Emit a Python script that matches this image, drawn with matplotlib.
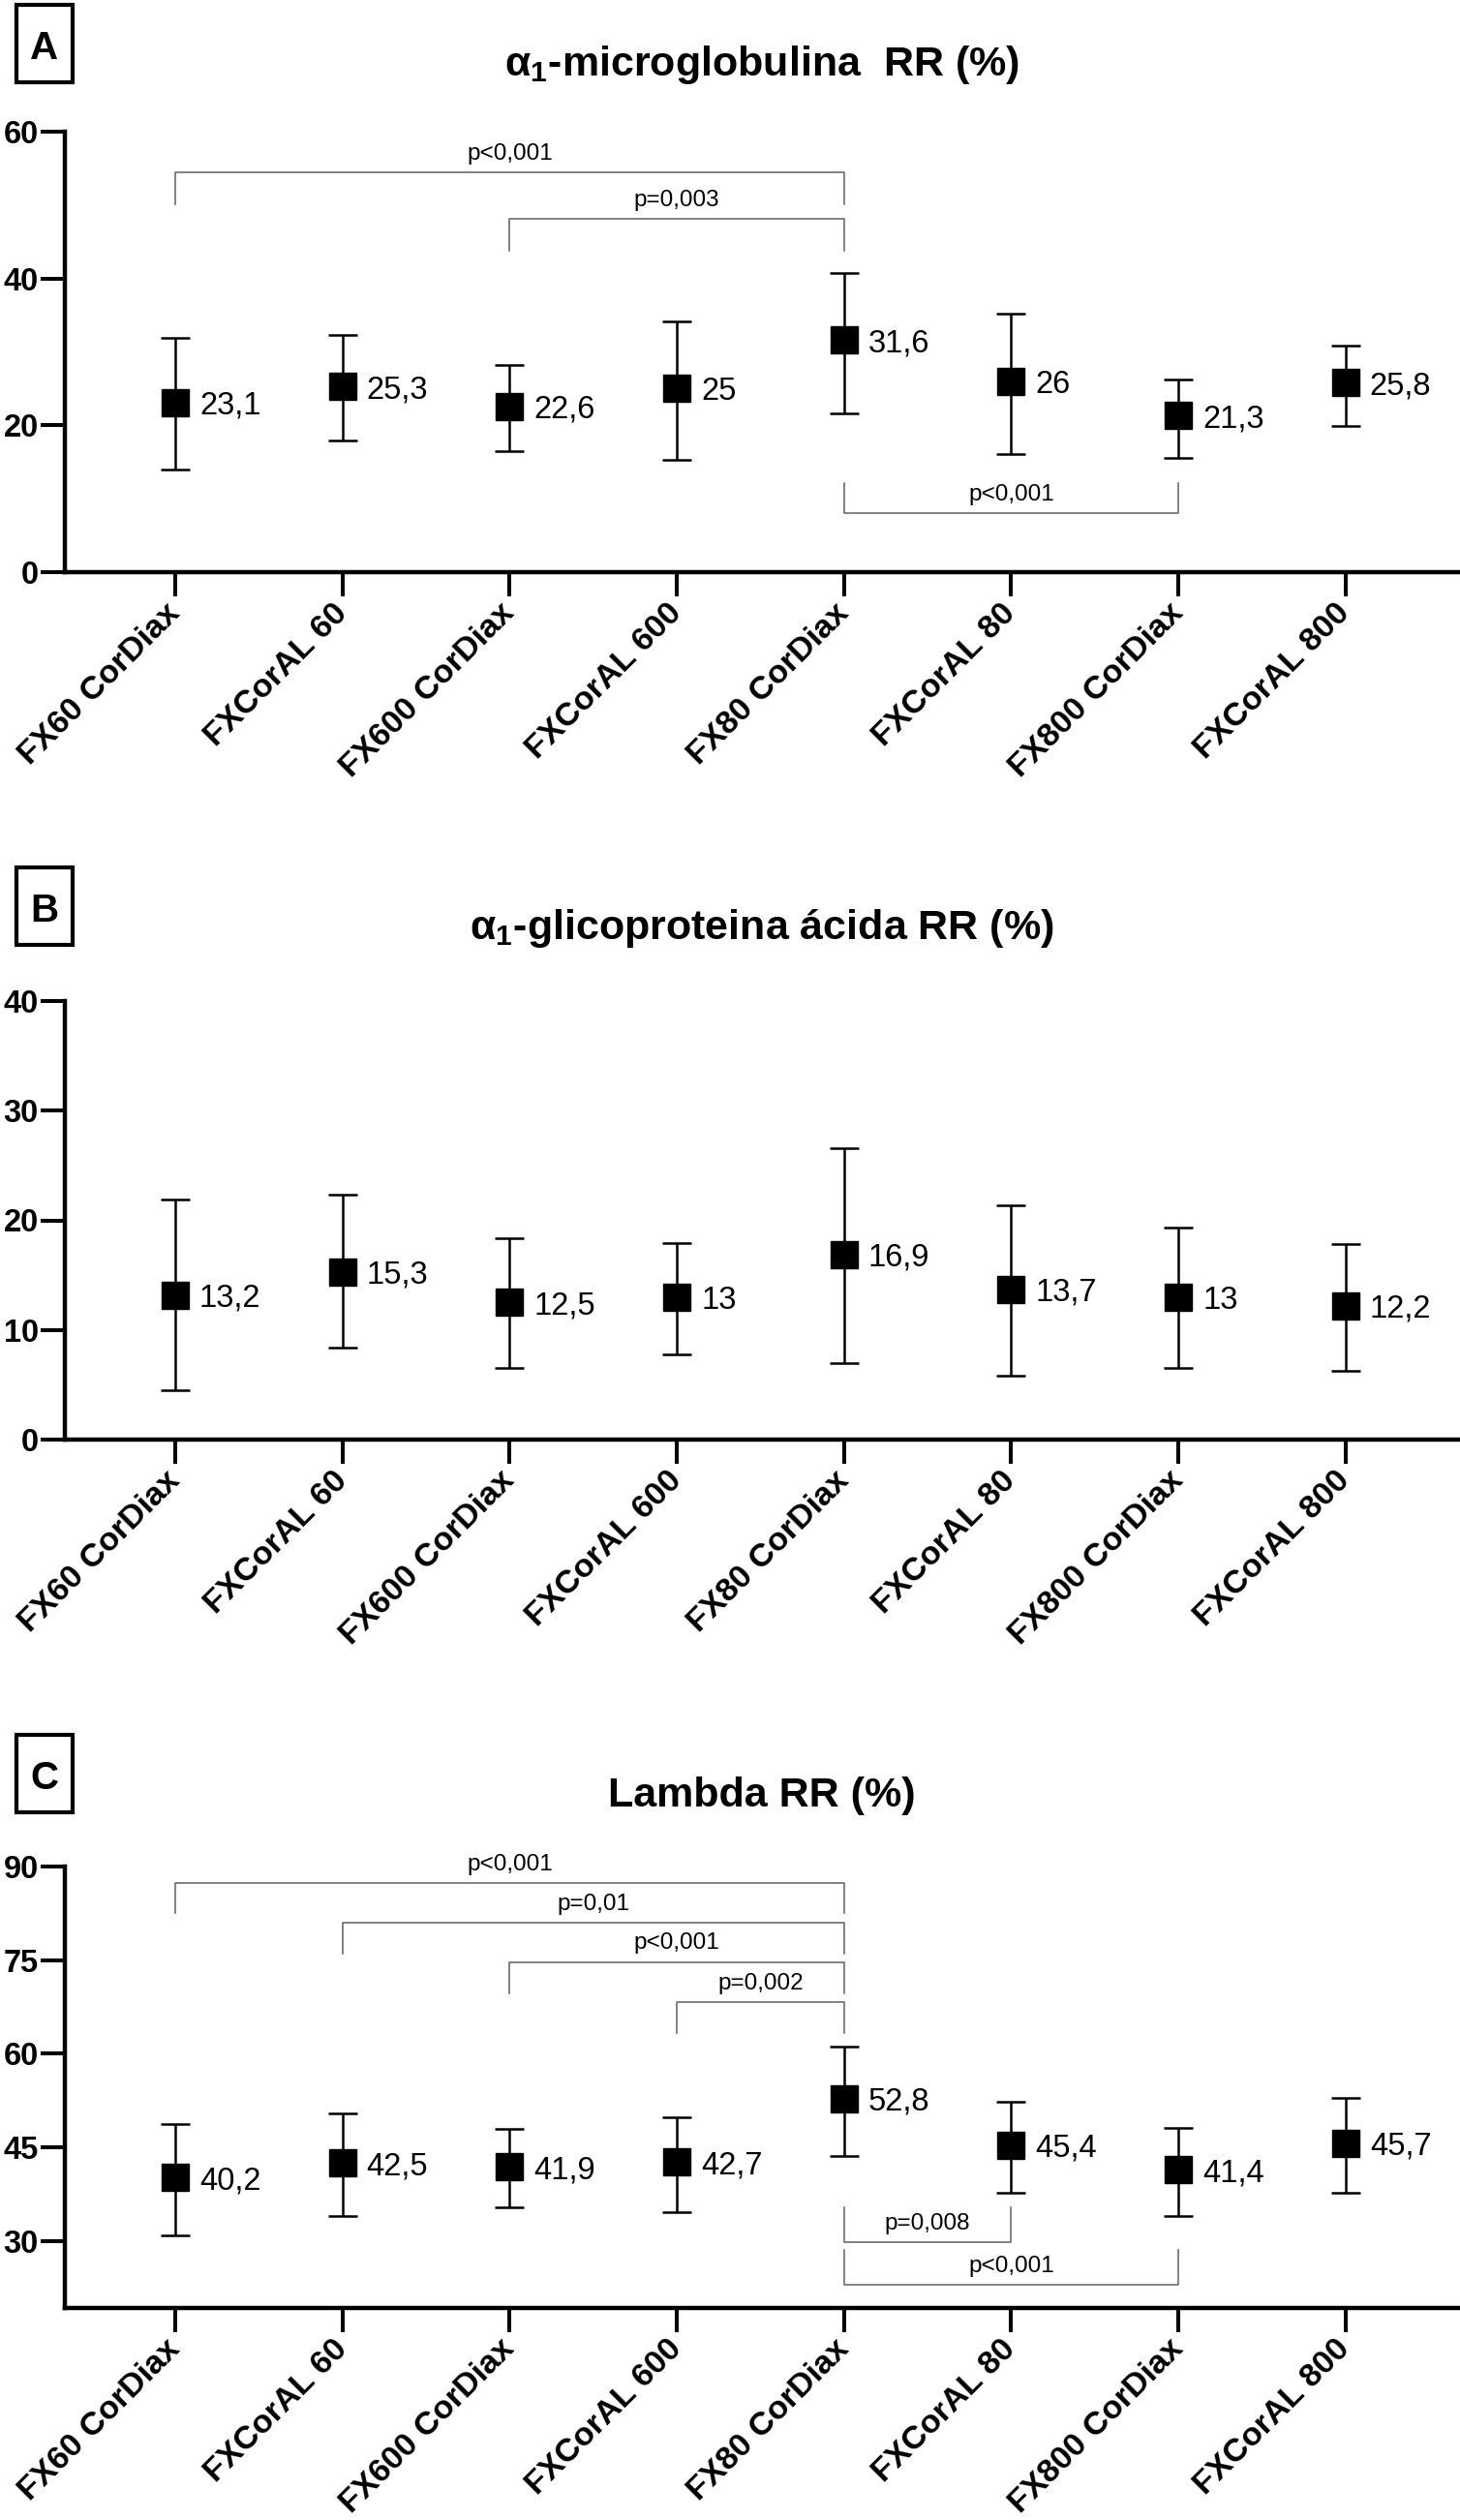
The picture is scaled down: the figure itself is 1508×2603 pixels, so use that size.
import matplotlib
matplotlib.use('Agg')
import matplotlib.pyplot as plt
from matplotlib.patches import Rectangle

plt.rcParams['font.family'] = ['Liberation Sans', 'DejaVu Sans']
plt.rcParams['mathtext.fontset'] = 'custom'
plt.rcParams['mathtext.rm'] = 'Liberation Sans'
plt.rcParams['mathtext.bf'] = 'Liberation Sans:bold'

W, H = 1508, 2603  # output size in px, dpi 100

categories = ['FX60 CorDiax', 'FXCorAL 60', 'FX600 CorDiax', 'FXCorAL 600',
              'FX80 CorDiax', 'FXCorAL 80', 'FX800 CorDiax', 'FXCorAL 800']

# panel A - alpha1-microglobulina
a_mean = [23.1, 25.3, 22.6, 25, 31.6, 26, 21.3, 25.8]
a_upper = [31.9, 32.3, 28.2, 34.1, 40.8, 35.2, 26.3, 30.9]
a_lower = [14.0, 17.9, 16.5, 15.3, 21.6, 16.1, 15.6, 19.9]
a_yticks = [0, 20, 40, 60]
# (from, to, text, line height, leg tip height)
a_brackets = [(0, 4, 'p<0,001', 54.5, 50.1),
              (2, 4, 'p=0,003', 48.1, 43.8),
              (4, 6, 'p<0,001', 8.05, 12.1)]

# panel B - alpha1-glicoproteina acida
b_mean = [13.2, 15.3, 12.5, 13, 16.9, 13.7, 13, 12.2]
b_upper = [21.9, 22.3, 18.4, 17.9, 26.6, 21.4, 19.3, 17.8]
b_lower = [4.5, 8.4, 6.5, 7.8, 7.0, 5.8, 6.5, 6.3]
b_yticks = [0, 10, 20, 30, 40]
b_brackets = []

# panel C - lambda
c_mean = [40.2, 42.5, 41.9, 42.7, 52.8, 45.4, 41.4, 45.7]
c_upper = [48.8, 50.5, 48.0, 49.9, 61.2, 52.3, 48.2, 52.9]
c_lower = [30.9, 34.0, 35.5, 34.7, 43.7, 37.75, 34.0, 37.75]
c_yticks = [30, 45, 60, 75, 90]
c_brackets = [(0, 4, 'p<0,001', 87.4, 82.6),
              (1, 4, 'p=0,01', 81.0, 76.0),
              (2, 4, 'p<0,001', 74.7, 69.7),
              (3, 4, 'p=0,002', 68.3, 63.4),
              (4, 5, 'p=0,008', 29.85, 35.5),
              (4, 6, 'p<0,001', 23.0, 28.65)]


def draw_panel(ax, mean, lower, upper, yticks, ylim, brackets):
    x = list(range(len(categories)))
    yerr = [[m - lo for m, lo in zip(mean, lower)], [up - m for m, up in zip(mean, upper)]]
    ax.errorbar(x, mean, yerr=yerr, fmt='s', color='black', ms=20,
                capsize=10.5, elinewidth=1.8, capthick=1.8, zorder=3)
    for xi, m in zip(x, mean):
        ax.annotate(f'{m:g}'.replace('.', ','), (xi, m), xytext=(18, 0),
                    textcoords='offset points', ha='left', va='center_baseline',
                    fontsize=23.5)
    for x1, x2, txt, yl, yt in brackets:
        ax.plot([x1, x1, x2, x2], [yt, yl, yl, yt], color='#606060', lw=1.1, zorder=2)
        ax.annotate(txt, ((x1 + x2) / 2, yl), xytext=(0, 9.5), textcoords='offset points',
                    ha='center', va='baseline', fontsize=17.5)

    ax.set_xlim(-0.66, 7.684)
    ax.set_ylim(*ylim)
    ax.set_yticks(yticks)
    ax.set_yticklabels([str(t) for t in yticks], fontsize=23.5, fontweight='bold')
    ax.set_xticks(x)
    ax.set_xticklabels(categories, fontsize=24.5, fontweight='bold', rotation=45,
                       ha='right', va='center', rotation_mode='anchor')
    ax.tick_params(axis='both', length=18, width=2.9, direction='out')
    ax.tick_params(axis='y', pad=1.5)
    ax.tick_params(axis='x', pad=9)
    for s in ['top', 'right']:
        ax.spines[s].set_visible(False)
    for s in ['left', 'bottom']:
        ax.spines[s].set_linewidth(3.2)


fig = plt.figure(figsize=(W / 100, H / 100), dpi=100)

# axes rectangles in pixels: (top of y axis, bottom of y axis)
panels = [
    (a_mean, a_lower, a_upper, a_yticks, (0, 60), a_brackets, 136, 591,
     'A', r'α$_\mathbf{1}$-microglobulina  RR (%)', 5, 78),
    (b_mean, b_lower, b_upper, b_yticks, (0, 40), b_brackets, 1034, 1487,
     'B', r'α$_\mathbf{1}$-glicoproteina ácida RR (%)', 896, 970),
    (c_mean, c_lower, c_upper, c_yticks, (19.3, 90), c_brackets, 1928, 2384,
     'C', 'Lambda RR (%)', 1792, 1866),
]

for mean, lower, upper, yt, yl, br, top, bot, letter, title, box_top, title_base in panels:
    ax = fig.add_axes([67 / W, 1 - bot / H, 1 - 67 / W, (bot - top) / H])
    draw_panel(ax, mean, lower, upper, yt, yl, br)

    fig.text(787 / W, 1 - title_base / H, title, ha='center', va='baseline',
             fontsize=31, fontweight='bold')
    fig.patches.append(Rectangle((17 / W, 1 - (box_top + 80) / H), 58 / W, 80 / H,
                                 transform=fig.transFigure, fill=False,
                                 lw=3, ec='black'))
    fig.text(46 / W, 1 - (box_top + 41) / H, letter, ha='center', va='center_baseline',
             fontsize=29, fontweight='bold')

fig.savefig('out.png', dpi=100)
